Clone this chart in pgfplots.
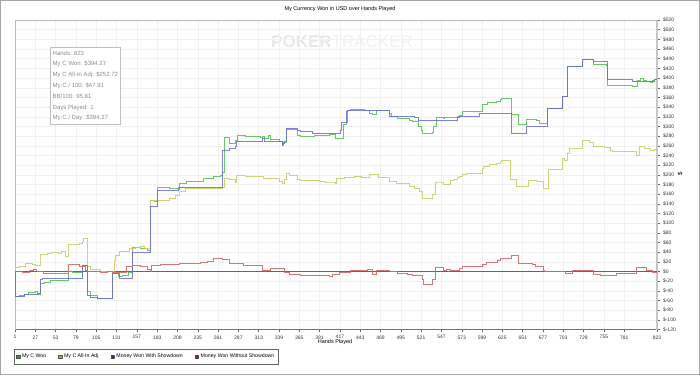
\documentclass[border=0pt]{standalone}
\usepackage{fontspec}
\setmainfont{Liberation Sans}
\usepackage{pgfplots}
\pgfplotsset{compat=1.18}
\definecolor{cwon}{RGB}{85,195,85}
\definecolor{cadj}{RGB}{205,205,110}
\definecolor{csd}{RGB}{105,105,215}
\definecolor{cnsd}{RGB}{210,105,105}
\definecolor{lwon}{RGB}{0,150,0}
\definecolor{ladj}{RGB}{165,165,0}
\definecolor{lsd}{RGB}{0,0,170}
\definecolor{lnsd}{RGB}{165,0,0}
\begin{document}
\begin{tikzpicture}[x=1pt,y=1pt]
\useasboundingbox (0,0) rectangle (700,375);
\fill[white] (0,0) rectangle (700,375);
\draw[gray!70, line width=1.2pt] (0.6,0.6) rectangle (699.4,374.4);
\node[anchor=west, inner sep=0, font=\fontsize{17}{17}\selectfont] at (271,333) {\textcolor{gray!18}{\bfseries POKER}\textcolor{gray!11}{TRACKER}};
\node[font=\fontsize{5.5}{6}\selectfont] at (340,366) {My Currency Won in USD over Hands Played};
\node[font=\fontsize{5.5}{6}\selectfont] at (335,32.5) {Hands Played};
\node[font=\fontsize{6}{6}\selectfont, rotate=90] at (680,201) {\$};
\begin{axis}[
  at={(15pt,45.5pt)}, anchor=south west, scale only axis,
  width=642pt, height=309.5pt,
  xmin=1, xmax=823, ymin=-120, ymax=520,
  axis x line*=bottom, axis y line*=right,
  x axis line style={black!55, line width=0.6pt},
  y axis line style={gray!45, line width=2pt},
  xtick={1,27,...,781,823},
  ytick={-120,-100,...,520},
  grid=major, grid style={gray!11, line width=0.4pt},
  tick align=outside, major tick length=2.5pt,
  tick style={black!60, line width=0.4pt},
  ticklabel style={font=\fontsize{5}{6}\selectfont, text=black!80},
  /pgf/number format/assume math mode=true,
  yticklabel={\$\pgfmathprintnumber{\tick}},
  legend style={at={(axis description cs:-0.0016,-0.063)}, anchor=north west,
    legend columns=4, draw=black!60, line width=0.4pt,
    font=\fontsize{5.2}{6}\selectfont, inner xsep=2pt, inner ysep=3pt,
    /tikz/every even column/.append style={column sep=10pt}},
  legend cell align=left,
]
\draw[gray!50, line width=0.5pt] (rel axis cs:0,1) -- (rel axis cs:1,1);
\draw[gray!55, line width=1.4pt] (rel axis cs:0,0) -- (rel axis cs:0,1);
\draw[black!60, line width=0.6pt] (axis cs:1,0) -- (axis cs:823,0);

\addplot[const plot, line width=0.9pt, color=cwon, opacity=0.9,
  legend image code/.code={\draw[draw=black!70, fill=lwon, line width=0.3pt] (0pt,-1.8pt) rectangle (3.6pt,1.8pt);}]
coordinates {(1,0) (2,-51) (7,-49) (13,-47) (18,-44) (27,-42) (30,-48) (33,-24) (39,-22) (46,-18) (69,0) (74,-2) (87,12) (94,-42) (97,-50) (106,-56) (126,-4) (133,-10) (138,-8) (146,-2) (152,50) (161,47) (170,44) (175,147) (180,145) (184,174) (199,172) (210,174) (212,182) (221,187) (242,193) (255,196) (264,199) (267,205) (269,277) (274,278) (276,265) (283,270) (286,282) (296,280) (315,278) (318,280) (320,276) (325,282) (328,272) (340,268) (343,261) (345,266) (349,294) (359,294) (362,282) (366,280) (385,282) (404,284) (411,276) (421,280) (422,303) (425,309) (427,334) (430,335) (449,333) (455,327) (459,325) (464,333) (472,332) (481,327) (483,321) (491,316) (506,313) (510,311) (517,299) (522,292) (523,285) (535,288) (537,299) (540,318) (549,316) (551,318) (568,320) (570,323) (574,330) (596,330) (599,335) (600,346) (606,349) (618,351) (622,355) (624,358) (636,325) (645,303) (656,314) (669,312) (673,306) (683,338) (702,361) (708,423) (728,438) (741,430) (742,428) (754,429) (758,425) (760,385) (792,382) (798,396) (802,399) (805,396) (810,392) (814,390) (817,395) (820,398) (823,395)};
\addlegendentry{My C Won}

\addplot[const plot, line width=0.9pt, color=cadj, opacity=0.9,
  legend image code/.code={\draw[draw=black!70, fill=ladj, line width=0.3pt] (0pt,-1.8pt) rectangle (3.6pt,1.8pt);}]
coordinates {(1,0) (2,8) (7,10) (15,17) (23,15) (27,13) (33,20) (34,36) (43,38) (48,40) (56,38) (61,42) (66,32) (69,56) (84,58) (87,63) (88,68) (94,10) (97,5) (110,0) (126,0) (128,22) (130,33) (135,42) (148,48) (155,50) (161,52) (167,47) (174,45) (175,147) (187,146) (199,150) (206,158) (212,165) (219,172) (266,174) (269,192) (276,190) (283,185) (285,198) (296,196) (315,197) (319,193) (328,193) (340,186) (343,182) (346,190) (349,202) (353,198) (362,190) (366,188) (391,186) (398,185) (408,185) (411,182) (413,192) (423,194) (436,197) (445,194) (455,200) (462,200) (466,194) (475,194) (481,186) (490,182) (506,176) (513,172) (519,165) (523,150) (535,150) (536,160) (539,185) (545,185) (549,179) (554,180) (558,189) (564,190) (567,194) (570,197) (574,201) (579,202) (596,202) (599,213) (601,218) (609,222) (618,224) (622,227) (624,230) (634,229) (635,190) (643,175) (658,188) (670,186) (677,172) (684,211) (702,234) (705,230) (708,245) (711,254) (728,270) (737,267) (741,258) (756,256) (763,251) (766,249) (794,248) (797,240) (801,258) (807,254) (814,250) (820,253) (823,252.72)};
\addlegendentry{My C All-In Adj}

\addplot[const plot, line width=0.9pt, color=csd, opacity=0.85,
  legend image code/.code={\draw[draw=black!70, fill=lsd, line width=0.3pt] (0pt,-1.8pt) rectangle (3.6pt,1.8pt);}]
coordinates {(1,0) (2,-51) (13,-47) (30,-46) (33,-16) (36,-14) (87,12) (94,-49) (97,-53) (106,-56) (126,-4) (135,-14) (152,40) (175,134) (184,168) (210,170) (212,174) (267,251) (276,254) (283,258) (285,268) (315,268) (318,275) (320,268) (340,268) (343,261) (344,264) (346,268) (348,296) (362,291) (366,289) (382,286) (418,292) (419,309) (426,330) (427,333) (481,321) (513,318) (517,313) (568,318) (570,321) (596,327) (636,285) (656,299) (683,338) (702,361) (708,423) (728,438) (741,435) (760,397) (792,392) (820,397) (823,397.5)};
\addlegendentry{Money Won With Showdown}

\addplot[const plot, line width=0.9pt, color=cnsd, opacity=0.9,
  legend image code/.code={\draw[draw=black!70, fill=lnsd, line width=0.3pt] (0pt,-1.8pt) rectangle (3.6pt,1.8pt);}]
coordinates {(1,0) (10,-1) (20,2) (24,5) (29,0) (37,-4) (69,15) (84,10) (91,3) (94,0) (110,-2) (119,0) (126,-1) (144,10) (152,13) (161,10) (170,5) (174,0) (176,13) (187,15) (212,17) (238,19) (247,21) (255,27) (267,25) (276,17) (293,12) (318,3) (328,6) (346,-2) (353,-6) (366,-8) (404,-10) (408,-6) (417,-2) (430,3) (452,4) (459,-6) (464,3) (481,0) (491,-4) (503,-6) (510,-8) (523,-17) (524,-26) (535,-17) (539,8) (549,2) (554,5) (558,2) (570,6) (574,10) (600,14) (605,19) (619,23) (622,27) (637,33) (645,16) (664,15) (667,10) (677,2) (679,0) (706,-4) (715,2) (741,-7) (750,-8) (771,-4) (797,8) (810,2) (817,-1) (820,-3) (823,-3)};
\addlegendentry{Money Won Without Showdown}
\end{axis}
\node[draw=gray!50, fill=white, anchor=north west, align=left, inner xsep=2.5pt, inner ysep=3pt,
  text=gray!90, font=\fontsize{6}{10.8}\selectfont] at (50,327.5)
  {Hands: 823\\ My C Won: \$394.27\\ My C All-In Adj: \$252.72\\ My C / 100: \$47.91\\ BB/100: 95.81\\ Days Played: 1\\ My C / Day: \$394.27};
\end{tikzpicture}
\end{document}
